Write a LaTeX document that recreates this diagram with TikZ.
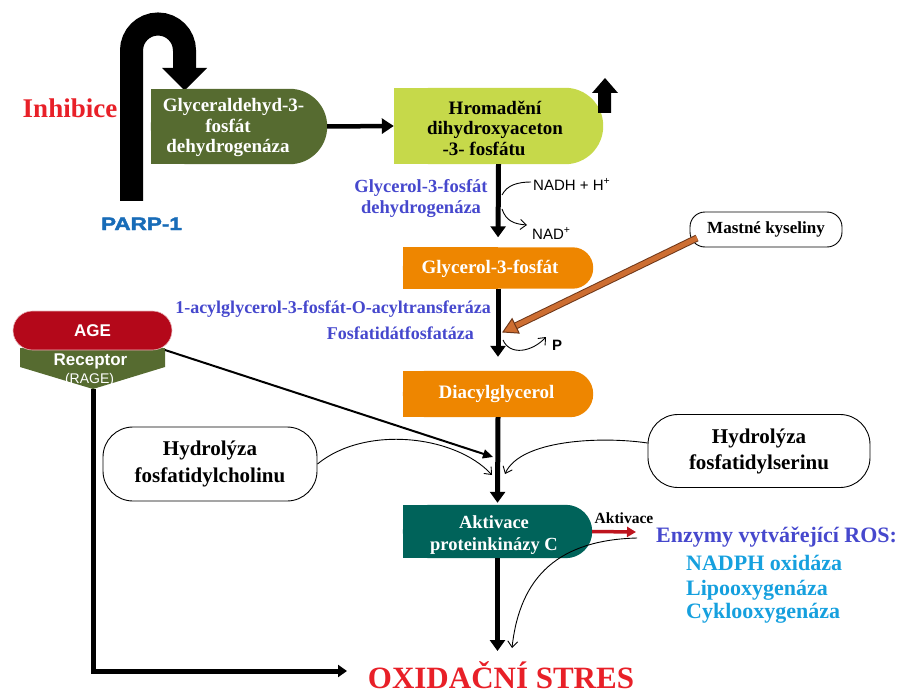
\documentclass[tikz,border=0pt]{standalone}
\usepackage{graphicx}
\usepackage{fontspec}
\setmainfont{Liberation Serif}
\setsansfont{Liberation Sans}
\newfontfamily\heavysans[FakeBold=2]{Liberation Sans Bold}
\usetikzlibrary{arrows.meta}
\definecolor{olivebox}{RGB}{86,107,48}
\definecolor{limebox}{RGB}{198,217,74}
\definecolor{orangebox}{RGB}{238,134,0}
\definecolor{tealbox}{RGB}{0,99,90}
\definecolor{agered}{RGB}{180,8,26}
\definecolor{txtred}{RGB}{232,32,40}
\definecolor{enzblue}{RGB}{70,72,205}
\definecolor{cyanblue}{RGB}{22,160,222}
\definecolor{parpblue}{RGB}{24,108,184}
\definecolor{mkorange}{RGB}{205,110,50}
\definecolor{mkdark}{RGB}{110,55,25}
\definecolor{redarrow}{RGB}{190,20,30}
\newcommand{\fsz}[2]{\fontsize{#1}{#2}\selectfont}
\newcommand{\rbox}[3]{%
  \fill[#2, rounded corners=#3] (#1.north west) rectangle (#1.south east);
  \fill[#2] (#1.north west) rectangle (#1.south);}
\begin{document}
\begin{tikzpicture}[x=1pt,y=-1pt,
  area/.style={rectangle, inner sep=0pt, draw=none},
  boxtext/.style={font=\bfseries\fsz{19}{20.5}, text=white, align=center, inner sep=0pt},
  plain/.style={inner sep=0pt},
  ovalbox/.style={draw=black, line width=0.9pt, rounded corners=30pt, fill=white, inner sep=0pt, align=center},
  mainarrow/.style={line width=5pt, -{Triangle[width=15pt,length=11pt]}},
  thinarrow/.style={line width=0.9pt, -{Straight Barb[length=6pt,width=10pt]}},
]
\useasboundingbox (0,0) rectangle (899,695);

% PARP-1 hook arrow
\draw[line width=23pt] (131.5,201) -- (131.5,50.5) arc[start angle=180,end angle=360,radius=26.5] -- (184.5,69);
\fill (162,68) -- (207,68) -- (184.5,90.5) -- cycle;
\node[plain, font=\heavysans\fsz{18}{20}, text=parpblue, anchor=base] (parp) at (141.5,230) {\scalebox{1.25}[1]{PARP-1}};
\node[plain, font=\bfseries\fsz{27}{30}, text=txtred, anchor=base] (inh) at (70,117.5) {Inhibice};

% box areas
\node[area, minimum width=176pt, minimum height=75pt] (gapdh) at (239,126.5) {};
\node[area, minimum width=209pt, minimum height=76pt] (hrom) at (498.5,126) {};
\node[area, minimum width=190pt, minimum height=41pt] (g3p) at (498,268) {};
\node[area, minimum width=190pt, minimum height=46pt] (dag) at (498,394) {};
\node[area, minimum width=189pt, minimum height=53pt] (pkc) at (497.5,531.5) {};
\rbox{gapdh}{olivebox}{37.5pt}
\rbox{hrom}{limebox}{38pt}
\rbox{g3p}{orangebox}{20.5pt}
\rbox{dag}{orangebox}{23pt}
\rbox{pkc}{tealbox}{26.5pt}

\node[boxtext] (gapdht) at (228,128) {\hspace*{11pt}Glyceraldehyd-3-\\fosfát\hspace*{13pt}\\dehydrogenáza};
\node[boxtext, text=black] (hromt) at (495,128) {Hromadění\\dihydroxyaceton\\\hspace*{-22pt}-3- fosfátu};
\node[boxtext, anchor=base] (g3pt) at (490,273) {Glycerol-3-fosfát};
\node[boxtext, anchor=base] (dagt) at (496.5,398) {Diacylglycerol};
\node[boxtext, font=\bfseries\fsz{18.5}{22}] (pkct) at (494,535) {Aktivace\\proteinkinázy C};

% up block arrow
\fill (598,113) -- (598,93) -- (592,93) -- (605,78) -- (618,93) -- (611,93) -- (611,113) -- cycle;

% main arrows
\draw[line width=4.5pt, -{Triangle[width=15pt,length=12pt]}] (gapdh.east) -- (hrom.west);
\draw[mainarrow, shorten >=10pt] (hrom.south) -- (g3p.north);
\draw[mainarrow, shorten >=14pt] (g3p.south) -- (dag.north);
\draw[mainarrow, shorten >=2pt] (dag.south) -- (pkc.north);
\coordinate (oxtop) at (497.5,651);
\draw[mainarrow] (pkc.south) -- (oxtop);

% enzyme label
\node[plain, font=\bfseries\fsz{18.5}{21}, text=enzblue, align=center] (g3pdh) at (421,199) {Glycerol-3-fosfát\\dehydrogenáza};
\node[plain, font=\sffamily\fsz{15}{17}, anchor=base west] (nadh) at (533,190) {NADH + H\textsuperscript{+}};
\node[plain, font=\sffamily\fsz{15}{17}, anchor=base west] (nad) at (532,239) {NAD\textsuperscript{+}};
\coordinate (nadhs) at (502,195);
\coordinate (nadhe) at (531,182);
\coordinate (nads) at (502,209);
\coordinate (nadt) at (527,225);
\draw[line width=0.9pt] (nadhs) .. controls (507,185) and (518,182) .. (nadhe);
\draw[thinarrow] (nads) .. controls (506,221) and (514,224) .. (nadt);

% acyl labels
\node[plain, font=\bfseries\fsz{18}{20}, text=enzblue, anchor=base east] (acyl) at (491,313) {1-acylglycerol-3-fosfát-O-acyltransferáza};
\node[plain, font=\bfseries\fsz{18}{20}, text=enzblue, anchor=base east] (fosf) at (474,339) {Fosfatidátfosfatáza};
\node[plain, font=\sffamily\bfseries\fsz{15}{17}, anchor=base] (pp) at (557,350) {P};
\coordinate (ps) at (503,340);
\coordinate (pt) at (546,337);
\draw[thinarrow] (ps) .. controls (510,356) and (532,352) .. (pt);

% fatty acids
\node[ovalbox, rounded corners=15pt, minimum width=152pt, minimum height=35pt, font=\bfseries\fsz{17}{19}] (mk) at (766,229.5) {Mastné kyseliny};
\coordinate (mkout) at (697,238);
\coordinate (mkin) at (503,332);
\draw[mkdark, line width=7pt, shorten >=12pt] (mkout) -- (mkin);
\draw[mkorange, line width=5pt, shorten >=12.5pt] (mkout) -- (mkin);
\filldraw[fill=mkorange, draw=mkdark, line width=1pt, line join=miter] (mkin) -- (519.1,333.1) -- (512.1,318.7) -- cycle;

% hydrolysis boxes
\node[ovalbox, minimum width=214pt, minimum height=74pt, font=\bfseries\fsz{21}{27}] (hpc) at (210,464) {Hydrolýza\\fosfatidylcholinu};
\node[ovalbox, minimum width=222pt, minimum height=73pt, font=\bfseries\fsz{21}{26}] (hps) at (759,451) {Hydrolýza\\fosfatidylserinu};
\coordinate (hpct) at (492,475);
\coordinate (hpst) at (505,474);
\draw[thinarrow] (hpc.east) .. controls (365,425) and (455,435) .. (hpct);
\draw[thinarrow] ([yshift=8pt]hps.west) .. controls (600,436) and (520,440) .. (hpst);

% AGE / RAGE
\fill[olivebox] (20,348) -- (165,348) -- (165,367) -- (93,389) -- (20,367) -- cycle;
\node[rectangle, rounded corners=19.5pt, fill=agered, draw=white!70!agered, line width=0.6pt, minimum width=159pt, minimum height=39pt, inner sep=0pt, font=\sffamily\bfseries\fsz{17}{19}, text=white] (age) at (92.5,330.5) {AGE};
\node[plain, font=\sffamily\bfseries\fsz{17}{19}, text=white, anchor=base] (rec) at (90.5,365) {Receptor};
\node[plain, font=\sffamily\fsz{14}{16}, text=white, anchor=base] (rage) at (89.5,383) {(RAGE)};
\coordinate (recne) at (165,350);
\coordinate (recbot) at (93,389);
\coordinate (agetip) at (493,457);
\coordinate (oxleft) at (347,671);
\draw[line width=2pt, -{Triangle[width=9pt,length=10pt]}] (recne) -- (agetip);
\draw[line width=5pt, line join=miter, -{Triangle[width=12pt,length=9pt]}] (recbot) |- (oxleft);

% PKC activation
\node[plain, font=\bfseries\fsz{15.5}{17}, anchor=base] (akt) at (624,523) {Aktivace};
\coordinate (enzarr) at (636,532);
\draw[redarrow, line width=3.5pt, -{Triangle[width=10pt,length=9pt]}] (pkc.east) -- (enzarr);
\node[plain, font=\bfseries\fsz{22}{24}, text=enzblue, anchor=base west] (enz) at (656,542) {Enzymy vytvářející ROS:};
\node[plain, font=\bfseries\fsz{22}{24}, text=cyanblue, anchor=base west] (nox) at (686,570) {NADPH oxidáza};
\node[plain, font=\bfseries\fsz{22}{24}, text=cyanblue, anchor=base west] (lox) at (686,595) {Lipooxygenáza};
\node[plain, font=\bfseries\fsz{22}{24}, text=cyanblue, anchor=base west] (cox) at (686,618) {Cyklooxygenáza};
\coordinate (enzc) at (637,538);
\coordinate (oxtip) at (512,648);
\draw[thinarrow] (enzc) .. controls (560,540) and (520,575) .. (oxtip);

% oxidative stress
\node[plain, font=\bfseries\fsz{31}{33}, text=txtred, anchor=base] (ox) at (501,688) {OXIDAČNÍ STRES};
\end{tikzpicture}
\end{document}
